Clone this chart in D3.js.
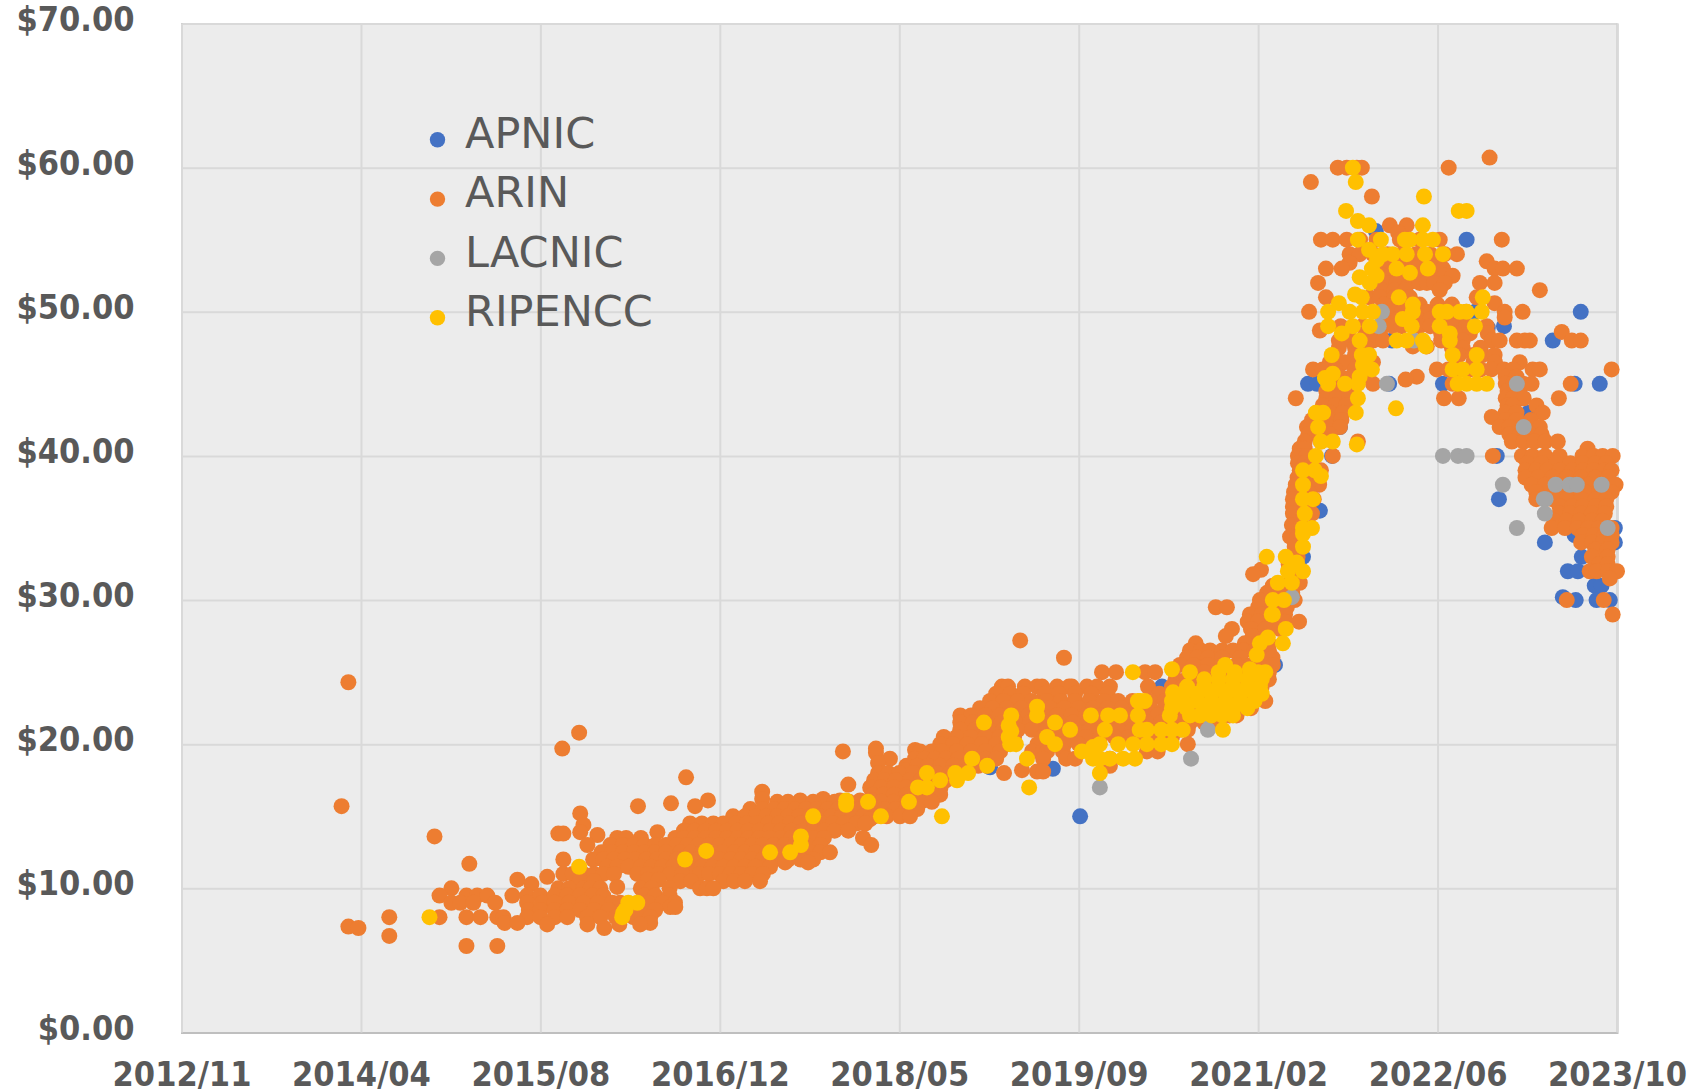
<!DOCTYPE html>
<html>
<head>
<meta charset="utf-8">
<script src="https://cdn.jsdelivr.net/npm/d3@7"></script>
<style>
  html, body { margin: 0; padding: 0; background: #fff; }
  svg { display: block; }
  text { font-family: "DejaVu Sans", sans-serif; fill: #595959; }
  .tick text { font-family: "DejaVu Sans Condensed", "DejaVu Sans", sans-serif; font-stretch: condensed; }
</style>
</head>
<body>
<div id="chart"></div>
<script>
// x values are days after the first axis label, y values are dollars per address
const yTicks = [0, 10, 20, 30, 40, 50, 60, 70];
const xTicks = [0, 500, 1000, 1500, 2000, 2500, 3000, 3500, 4000];
const xTickLabels = ['2012/11', '2014/04', '2015/08', '2016/12', '2018/05', '2019/09', '2021/02', '2022/06', '2023/10'];
const seriesNames = ['APNIC', 'ARIN', 'LACNIC', 'RIPENCC'];
const seriesColors = ['#4472C4', '#ED7D31', '#A5A5A5', '#FFC000'];

const apnic = [
  [2428, 18.3], [2504, 15], [2456, 20.9], [2732, 24], [2804, 21.3], [2253, 18.4],
  [2983, 22.9], [3000, 24], [3047, 25.5], [3172, 36.2], [3125, 33], [2986, 23],
  [3206, 40], [3228, 42], [3139, 45], [3164, 45], [3328, 55.6], [3581, 55], [3333, 52],
  [3373, 48], [3685, 49], [3515, 45], [3365, 45], [3899, 50], [3821, 48], [3952, 45],
  [3882, 45], [3738, 44], [3754, 43], [3665, 40], [3671, 37], [3799, 34], [3640, 48.9],
  [3994, 35], [3994, 34], [3882, 34.5], [3902, 33], [3950, 33], [3863, 32], [3891, 32],
  [3938, 31], [3957, 31], [3849, 30.2], [3885, 30], [3943, 30], [3980, 30], [3605, 50]
];

const arinRows = [
  [60.7, [3645]],
  [60, [3222, 3247, 3275, 3289, 3531]],
  [59, [3147]],
  [58, [3317]],
  [56, [3367, 3414]],
  [55.5, [3390]],
  [55, [3175, 3208, 3247, 3284, 3330, 3395, 3450, 3506, 3679]],
  [54, [3255, 3283, 3320, 3360, 3400, 3440, 3480, 3520, 3554]],
  [53.5, [3345, 3380, 3420, 3460, 3500, 3637]],
  [53.4, [3255]],
  [53, [3189, 3233, 3330, 3370, 3442, 3470, 3515, 3659, 3682, 3721]],
  [52.5, [3350, 3370, 3400, 3440, 3480, 3520, 3542]],
  [52, [3167, 3359, 3386, 3420, 3450, 3470, 3490, 3520, 3618, 3659]],
  [51.5, [3345, 3380, 3410, 3506, 3785]],
  [51, [3189, 3311, 3339, 3380, 3423, 3609]],
  [50.6, [3659]],
  [50.5, [3350, 3400, 3450, 3500, 3540]],
  [50, [3142, 3345, 3370, 3400, 3440, 3470, 3500, 3540, 3580, 3687, 3737]],
  [49.6, [3687]],
  [49.5, [3350, 3390, 3445, 3480, 3530, 3570]],
  [49, [3230, 3290, 3345, 3375, 3400, 3450, 3480, 3540, 3580, 3637]],
  [48.7, [3172]],
  [48.6, [3846]],
  [48.5, [3250, 3300, 3340, 3510, 3550, 3590, 3640]],
  [48, [3225, 3260, 3290, 3320, 3348, 3510, 3540, 3570, 3651, 3673, 3721, 3743, 3757, 3874, 3899]],
  [47.6, [3431, 3470]],
  [47.5, [3225, 3270, 3300, 3540, 3570, 3620]],
  [47, [3215, 3270, 3300, 3560, 3600, 3625, 3659]],
  [46.5, [3200, 3240, 3280, 3320, 3600, 3660, 3729]],
  [46, [3153, 3180, 3215, 3270, 3310, 3498, 3530, 3560, 3590, 3620, 3650, 3685, 3710, 3765, 3785, 3985]],
  [45.5, [3200, 3230, 3260, 3300, 3442, 3690, 3720]],
  [45.3, [3411]],
  [45, [3240, 3320, 3542, 3690, 3710, 3740, 3762, 3871]],
  [44.5, [3190, 3220, 3250, 3695, 3725]],
  [44, [3105, 3190, 3218, 3255, 3518, 3559, 3690, 3710, 3740, 3838]],
  [43.5, [3180, 3215, 3245, 3695, 3710, 3776]],
  [43, [3164, 3200, 3236, 3690, 3720, 3793]],
  [42.7, [3651]],
  [42.5, [3150, 3175, 3200, 3232, 3690, 3720, 3760]],
  [42.1, [3192]],
  [42, [3136, 3228, 3673, 3700, 3740, 3785]],
  [41.5, [3140, 3170, 3200, 3700, 3730, 3760, 3790]],
  [41, [3130, 3175, 3278, 3707, 3740, 3770, 3800, 3835]],
  [40.5, [3116, 3130, 3918]],
  [40, [3111, 3135, 3208, 3654, 3735, 3765, 3800, 3840, 3904, 3935, 3960, 3988]],
  [39.5, [3111, 3130, 3150, 3750, 3790, 3830, 3870, 3905, 3940, 3970]],
  [39, [3116, 3135, 3160, 3175, 3745, 3775, 3805, 3840, 3875, 3905, 3935, 3965, 3985]],
  [38.5, [3110, 3140, 3164, 3745, 3780, 3820, 3860, 3900, 3940, 3975]],
  [38, [3105, 3135, 3170, 3762, 3800, 3840, 3880, 3920, 3955, 3996]],
  [37.5, [3100, 3140, 3775, 3830, 3870, 3910, 3950, 3985]],
  [37, [3097, 3130, 3155, 3775, 3820, 3860, 3900, 3940, 3970]],
  [36.5, [3097, 3130, 3840, 3875, 3905, 3940, 3970]],
  [36, [3097, 3125, 3150, 3840, 3870, 3900, 3930, 3966]],
  [35.5, [3825, 3860, 3895, 3930, 3960]],
  [35.2, [3094, 3120]],
  [35, [3818, 3855, 3890, 3920, 3950, 3985]],
  [34.5, [3905, 3935, 3965, 3985]],
  [34.4, [3089, 3110]],
  [34, [3900, 3930, 3960, 3985]],
  [33.7, [3102]],
  [33.5, [3940, 3974]],
  [33, [3089, 3110, 3930, 3974]],
  [32.5, [3085, 3108, 3950, 3974]],
  [32.1, [3008]],
  [32, [3085, 3110, 3924, 3943, 3974, 4000]],
  [31.8, [2986]],
  [31.5, [3980]],
  [31.2, [3116]],
  [31, [3041, 3075, 3095]],
  [30.5, [3025, 3060, 3095]],
  [30, [3005, 3040, 3075, 3102, 3860, 3963]],
  [29.5, [2882, 2913, 3000, 3040, 3080]],
  [29, [2977, 3010, 3045, 3075, 3988]],
  [28.5, [2971, 3000, 3040, 3075, 3114]],
  [28, [2927, 2980, 3020, 3060]],
  [27.5, [2910, 2985, 3020]],
  [27.2, [2337]],
  [27, [2826, 2963, 3000, 3030]],
  [26.5, [2810, 2840, 2866, 2900, 2930, 2960, 2990, 3030]],
  [26, [2459, 2802, 2830, 2860, 2900, 2950, 3010, 3040]],
  [25.5, [2782, 2820, 2860, 2900, 2940, 2980, 3020, 3041]],
  [25, [2565, 2604, 2685, 2713, 2810, 2850, 2890, 2930, 2970, 3010, 3030]],
  [24.5, [2770, 2800, 2840, 2880, 2920, 2960, 3000, 3030]],
  [24.3, [465]],
  [24, [2286, 2303, 2350, 2384, 2398, 2440, 2473, 2481, 2523, 2551, 2587, 2693, 2760, 2790, 2830, 2880, 2930, 2970, 3010]],
  [23.5, [2270, 2310, 2345, 2405, 2445, 2490, 2535, 2580, 2725, 2770, 2820, 2860, 2900, 2950, 2990]],
  [23, [2253, 2290, 2330, 2370, 2410, 2450, 2490, 2530, 2570, 2610, 2650, 2700, 2740, 2780, 2820, 2860, 2900, 2940, 2980, 3020]],
  [22.5, [2225, 2260, 2300, 2340, 2380, 2420, 2460, 2500, 2540, 2580, 2620, 2660, 2700, 2740, 2780, 2820, 2860, 2900, 2940, 2980]],
  [22, [2170, 2200, 2240, 2280, 2320, 2360, 2400, 2440, 2480, 2520, 2560, 2600, 2640, 2680, 2720, 2760, 2800, 2840, 2880, 2920, 2940]],
  [21.5, [2170, 2205, 2245, 2285, 2325, 2365, 2405, 2445, 2485, 2525, 2565, 2605, 2645, 2690, 2730, 2770, 2810, 2850, 2890]],
  [21, [2170, 2210, 2250, 2290, 2330, 2370, 2410, 2450, 2490, 2530, 2570, 2610, 2650, 2700, 2750, 2780, 2804]],
  [20.8, [1108]],
  [20.5, [2124, 2160, 2200, 2240, 2280, 2320, 2400, 2440, 2480, 2520, 2560, 2600, 2640, 2680, 2720, 2760]],
  [20, [2114, 2150, 2190, 2230, 2270, 2300, 2385, 2420, 2460, 2500, 2804]],
  [19.7, [1061, 1935]],
  [19.6, [2044]],
  [19.5, [1843, 2058, 2090, 2120, 2160, 2200, 2240, 2281, 2370, 2400, 2412, 2456, 2690, 2720]],
  [19.4, [1935]],
  [19, [1974, 2044, 2070, 2100, 2130, 2165, 2200, 2240, 2270, 2401, 2465, 2490, 2587]],
  [18.7, [1941]],
  [18.5, [2020, 2050, 2080, 2115, 2150, 2185, 2220, 2245, 2587]],
  [18.2, [2016, 2189, 2342]],
  [18.1, [2384, 2401]],
  [18, [1941, 1970, 2000, 2040, 2075, 2105, 2140, 2292]],
  [17.7, [1406]],
  [17.5, [1930, 1960, 1990, 2030, 2060, 2095, 2130]],
  [17.2, [1858]],
  [17, [1919, 1950, 1985, 2020, 2050, 2085, 2115]],
  [16.7, [1618]],
  [16.5, [1925, 1955, 1985, 2020, 2050, 2085, 2114]],
  [16.2, [1618, 1788]],
  [16.1, [1467, 1724, 1835, 1891, 1925]],
  [16, [1660, 1690, 1760, 1820, 1860, 1950, 1985, 2020, 2060, 2091]],
  [15.9, [1364]],
  [15.7, [446, 1272, 1431]],
  [15.5, [1585, 1620, 1650, 1680, 1710, 1740, 1770, 1800, 1830, 1860, 1890, 1925, 1960, 1990, 2020, 2050]],
  [15.2, [1111]],
  [15, [1537, 1570, 1600, 1630, 1660, 1690, 1720, 1750, 1780, 1810, 1840, 1870, 1900, 1930, 1965, 2002, 2030]],
  [14.8, [1919]],
  [14.5, [1417, 1450, 1482, 1510, 1545, 1575, 1605, 1635, 1665, 1695, 1725, 1755, 1785, 1815, 1845, 1880, 1905]],
  [14.4, [1120]],
  [14, [1400, 1430, 1460, 1490, 1520, 1550, 1580, 1610, 1640, 1670, 1700, 1730, 1760, 1790, 1820, 1858]],
  [13.9, [1111, 1326]],
  [13.8, [1050, 1064]],
  [13.7, [1159]],
  [13.6, [705]],
  [13.5, [1214, 1239, 1280, 1376, 1400, 1430, 1460, 1490, 1520, 1550, 1580, 1610, 1640, 1670, 1700, 1730, 1760, 1790, 1899]],
  [13, [1131, 1195, 1230, 1260, 1290, 1320, 1350, 1380, 1410, 1440, 1470, 1500, 1530, 1560, 1590, 1620, 1650, 1680, 1710, 1740, 1780, 1922]],
  [12.5, [1170, 1200, 1230, 1260, 1290, 1320, 1350, 1390, 1420, 1450, 1480, 1510, 1540, 1570, 1600, 1630, 1660, 1690, 1720, 1750, 1780, 1807]],
  [12, [1064, 1147, 1175, 1205, 1235, 1265, 1295, 1325, 1350, 1380, 1410, 1440, 1470, 1500, 1530, 1560, 1590, 1620, 1650, 1690, 1725, 1760]],
  [11.8, [1682, 1746]],
  [11.7, [802]],
  [11.5, [1186, 1215, 1245, 1280, 1310, 1340, 1370, 1420, 1450, 1480, 1510, 1540, 1570, 1600, 1640]],
  [11, [1064, 1090, 1120, 1150, 1175, 1205, 1270, 1300, 1330, 1362, 1395, 1445, 1470, 1500, 1530, 1560, 1590, 1620]],
  [10.8, [1019]],
  [10.6, [936, 1300, 1330]],
  [10.5, [1110, 1150, 1510, 1540, 1570, 1612, 1390, 1420]],
  [10.3, [975]],
  [10.1, [1214]],
  [10, [752, 1050, 1080, 1120, 1140, 1167, 1280, 1310, 1360, 1445, 1464, 1482]],
  [9.5, [719, 794, 824, 852, 922, 963, 1000, 1040, 1075, 1110, 1145, 1175, 1290, 1320, 1360]],
  [9, [752, 777, 813, 874, 963, 1005, 1040, 1080, 1120, 1160, 1200, 1222, 1300, 1340, 1375]],
  [8.7, [1362, 1376]],
  [8.5, [968, 1000, 1040, 1075, 1110, 1150, 1190, 1260, 1290, 1320]],
  [8, [579, 719, 794, 833, 880, 897, 963, 1000, 1040, 1075, 1130, 1167, 1210, 1259, 1306]],
  [7.6, [900, 936, 1306]],
  [7.5, [1019, 1131, 1220, 1278]],
  [7.35, [465]],
  [7.25, [493, 1178]],
  [6.7, [579]],
  [6, [794, 880]]
];
const arin = arinRows.flatMap(([price, days]) => days.map(day => [day, price]));

const lacnic = [
  [2559, 17], [2813, 19], [2860, 21], [2857, 22], [2852, 22.2], [3094, 30.2], [3345, 50],
  [3336, 49], [3434, 48], [3359, 45], [3515, 40], [3557, 40], [3581, 40], [3682, 38], [3721, 35],
  [3721, 45], [3740, 42], [3829, 38], [3868, 38], [3888, 38], [3957, 38], [3801, 37],
  [3796, 37], [3799, 36], [3974, 35]
];

const ripencc = [
  [691, 8], [1108, 11.5], [1228, 8], [1231, 8.3], [1237, 8.5], [1245, 9], [1270, 9], [1403, 12],
  [1462, 12.6], [1640, 12.5], [1696, 12.5], [1726, 13.6], [1726, 13], [1760, 15], [1852, 16.1],
  [1852, 15.8], [1913, 16], [1949, 15], [2027, 16], [2119, 15], [2052, 17], [2077, 17], [2077, 18],
  [2114, 17.5], [2161, 17.5], [2156, 18], [2192, 18], [2203, 19], [2245, 18.5], [2236, 21.5],
  [2312, 22], [2305, 21.3], [2312, 20.9], [2305, 20.5], [2309, 20], [2325, 20], [2356, 19],
  [2362, 17], [2384, 22.6], [2384, 22], [2434, 21.5], [2412, 20.5], [2434, 20], [2476, 21],
  [2534, 22], [2509, 19.5], [2540, 19.8], [2559, 20], [2540, 19], [2559, 18], [2559, 19],
  [2573, 21], [2582, 22], [2615, 22], [2610, 20], [2652, 20], [2690, 20], [2730, 20], [2760, 20],
  [2587, 19], [2624, 19], [2657, 19], [2651, 25], [2665, 23], [2684, 23], [2665, 22], [2670, 21],
  [2690, 21], [2730, 21], [2760, 21], [2790, 21], [2902, 21], [2754, 22], [2810, 22], [2838, 22],
  [2870, 22], [2900, 22], [2930, 22], [2671, 23], [2760, 22.5], [2800, 22.5], [2850, 22.5],
  [2890, 22.5], [2930, 22.5], [2970, 22.5], [2760, 23], [2790, 23], [2830, 23], [2870, 23],
  [2910, 23], [2950, 23], [2990, 23], [2763, 23.6], [2790, 23.5], [2830, 23.5], [2870, 23.5],
  [2910, 23.5], [2950, 23.5], [2990, 23.5], [3010, 23.5], [2802, 24], [2850, 24], [2890, 24],
  [2930, 24], [2970, 24], [3005, 24], [2850, 24.5], [2890, 24.5], [2930, 24.5], [2970, 24.5],
  [3010, 24.5], [2760, 25.2], [2810, 25], [2890, 25], [2935, 25], [2977, 25.2], [3000, 25],
  [3020, 25], [2908, 25.5], [2996, 26.2], [3005, 27], [3027, 27.4], [3069, 27], [3077, 28],
  [3038, 29], [3041, 29], [3041, 30], [3072, 30], [3055, 31.2], [3094, 31.2], [3083, 32],
  [3125, 32], [3024, 33], [3077, 33], [3108, 32.6], [3125, 33.7], [3125, 34.6], [3125, 35],
  [3150, 35], [3130, 36], [3125, 37], [3153, 37], [3125, 38], [3125, 39], [3158, 39], [3175, 38.6],
  [3161, 40], [3167, 42], [3175, 41], [3208, 41], [3275, 40.8], [3161, 43], [3181, 43],
  [3272, 43], [3384, 43.3], [3278, 44], [3195, 45], [3186, 45.4], [3208, 45.7], [3242, 45],
  [3278, 45], [3283, 45.5], [3556, 45], [3581, 45], [3609, 45], [3637, 45], [3292, 46.3],
  [3317, 46], [3542, 46], [3570, 46], [3609, 46], [3205, 47], [3289, 47], [3309, 47], [3542, 47],
  [3609, 47], [3283, 48], [3386, 48], [3414, 48], [3459, 48], [3467, 47.6], [3534, 48],
  [3195, 49], [3233, 48.5], [3264, 49], [3311, 49], [3403, 49.5], [3428, 49], [3506, 49],
  [3534, 48.5], [3604, 49], [3195, 50], [3225, 50.6], [3255, 50], [3292, 50], [3320, 50],
  [3431, 50.5], [3431, 50], [3506, 50], [3526, 50], [3562, 50], [3581, 50], [3623, 50],
  [3270, 51.2], [3289, 51], [3392, 51], [3626, 51], [3283, 52.4], [3311, 52], [3330, 52.5],
  [3317, 53], [3331, 53.6], [3386, 53], [3423, 52.7], [3473, 53], [3309, 54.3], [3348, 54],
  [3375, 54], [3414, 54], [3465, 54], [3515, 54], [3278, 55], [3342, 55], [3409, 55], [3423, 55],
  [3459, 55], [3487, 55], [3278, 56.3], [3309, 56], [3459, 56], [3245, 57], [3559, 57], [3581, 57],
  [3462, 58], [3272, 59], [3264, 60]
];

const seriesData = [apnic, arin, lacnic, ripencc];

const width = 1694, height = 1092;
const plotLeft = 181.5, plotRight = 1617, plotTop = 23.5, plotBottom = 1032.5;
const dotRadius = 8;

const x = d3.scaleLinear().domain([0, 4000]).range([plotLeft, plotRight]);
const y = d3.scaleLinear().domain([0, 70]).range([plotBottom, plotTop]);

const svg = d3.select('#chart').append('svg')
  .attr('viewBox', [0, 0, width, height])
  .attr('width', width)
  .attr('height', height);

svg.append('rect')
  .attr('x', plotLeft).attr('y', plotTop)
  .attr('width', plotRight - plotLeft).attr('height', plotBottom - plotTop)
  .attr('fill', '#ECECEC');

// axes, the tick lines double as the gridlines
const yAxis = svg.append('g')
  .attr('transform', `translate(${plotLeft},0)`)
  .call(d3.axisLeft(y).tickValues(yTicks).tickFormat(d3.format('$.2f')).tickSize(-(plotRight - plotLeft)).tickPadding(47));

const xAxis = svg.append('g')
  .attr('transform', `translate(0,${plotBottom})`)
  .call(d3.axisBottom(x).tickValues(xTicks).tickFormat((d, i) => xTickLabels[i]).tickSize(-(plotBottom - plotTop)).tickPadding(25));

[yAxis, xAxis].forEach(axis => {
  axis.selectAll('.tick line').attr('stroke', '#D9D9D9').attr('stroke-width', 2);
  axis.selectAll('.tick text').style('font-size', '34px').style('font-weight', 'bold').attr('fill', '#595959');
  axis.select('.domain').attr('stroke', '#BFBFBF').attr('stroke-width', 2);
});
yAxis.selectAll('.tick text').attr('dy', '6').attr('y', 0.5);
xAxis.selectAll('.tick text').attr('dy', '0').attr('y', 53);

// legend sits inside the plot
const legend = svg.append('g').selectAll('g')
  .data(seriesNames)
  .join('g')
  .attr('transform', (d, i) => `translate(0,${139 + i * 59.3})`);

legend.append('text')
  .attr('x', 465).attr('y', 9)
  .style('font-size', '43px')
  .text(d => d);

legend.append('circle')
  .attr('cx', 437.5).attr('cy', 0.8).attr('r', 7.7)
  .attr('fill', (d, i) => seriesColors[i]);

// one group per registry, later ones are painted over earlier ones
svg.append('g').selectAll('g')
  .data(seriesData)
  .join('g')
  .attr('fill', (d, i) => seriesColors[i])
  .selectAll('circle')
  .data(d => d)
  .join('circle')
  .attr('cx', d => x(d[0]))
  .attr('cy', d => y(d[1]))
  .attr('r', dotRadius);
</script>
</body>
</html>
